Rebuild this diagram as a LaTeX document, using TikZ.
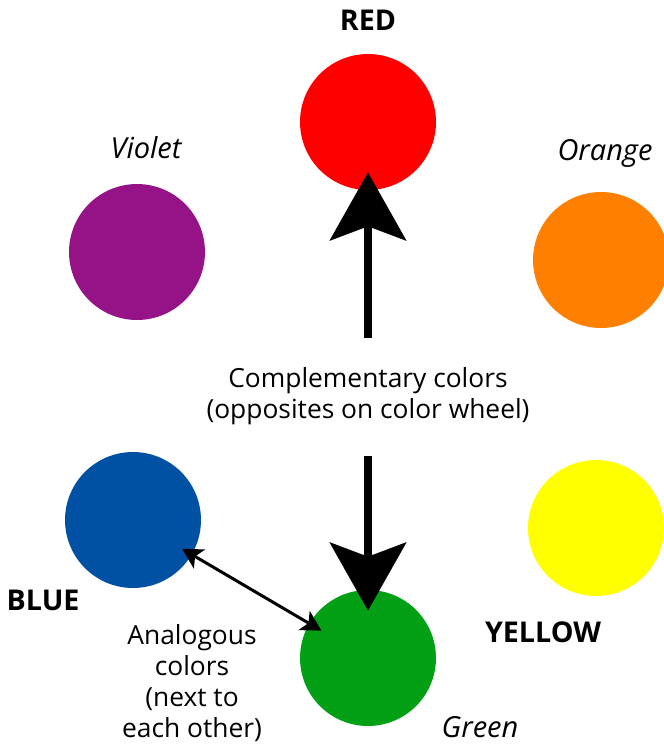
\documentclass[tikz,border=0pt]{standalone}
\usepackage{fontspec}
\setmainfont{Open Sans}
\usepackage{tikz}
\usetikzlibrary{arrows.meta,calc}
\definecolor{redcol}{HTML}{FF0000}
\definecolor{violetcol}{HTML}{951287}
\definecolor{orangecol}{HTML}{FF8000}
\definecolor{bluecol}{HTML}{0050A3}
\definecolor{yellowcol}{HTML}{FFFF00}
\definecolor{greencol}{HTML}{03A016}

\begin{document}
\begin{tikzpicture}[
  x=0.02cm, y=-0.02cm, font=\fontsize{15}{17.5}\selectfont,
  blob/.style={circle, minimum size=2.72cm, inner sep=0pt},
  primary/.style={font=\fontsize{16.3}{19}\selectfont\bfseries},
  secondary/.style={font=\fontsize{16.5}{19}\selectfont\itshape},
  bigarrow/.style={line width=0.16cm, -{Stealth[length=1.36cm, width=1.52cm, inset=0.28cm]}},
  thinarrow/.style={line width=0.06cm, {Stealth[length=0.4cm, width=0.44cm, inset=0.1cm]}-{Stealth[length=0.4cm, width=0.44cm, inset=0.1cm]}}
]
\useasboundingbox (0,0) rectangle (663,744);

\node[blob, fill=redcol] (red) at (368,122) {};
\node[blob, fill=violetcol] (violet) at (137,252) {};
\node[blob, fill=orangecol] (orange) at (601,260) {};
\node[blob, fill=bluecol] (blue) at (133,520) {};
\node[blob, fill=yellowcol] (yellow) at (596,528) {};
\node[blob, fill=greencol] (green) at (368,658) {};

\node[primary] (redlab) at (368,20) {RED};
\node[secondary] (violetlab) at (146,148) {Violet};
\node[secondary] (orangelab) at (605,153) {Orange};
\node[primary] (bluelab) at (43,600) {BLUE};
\node[primary] (yellowlab) at (543,632) {YELLOW};
\node[secondary] (greenlab) at (480,727) {Green};

\node[align=center] (comp) at (368,396) {Complementary colors\\(opposites on color wheel)};
\node[align=center] (anal) at (192,683) {Analogous\\colors\\(next to\\each other)};

\coordinate (upstart) at (368,338);
\coordinate (downstart) at (368,456);
\draw[bigarrow] (upstart) -- ([yshift=0.36cm]red.south);
\draw[bigarrow] (downstart) -- ([yshift=-0.42cm]green.north);

\draw[thinarrow] ($(blue.center)!1.14cm!(green.center)$) -- ($(green.center)!1.08cm!(blue.center)$);
\end{tikzpicture}
\end{document}
